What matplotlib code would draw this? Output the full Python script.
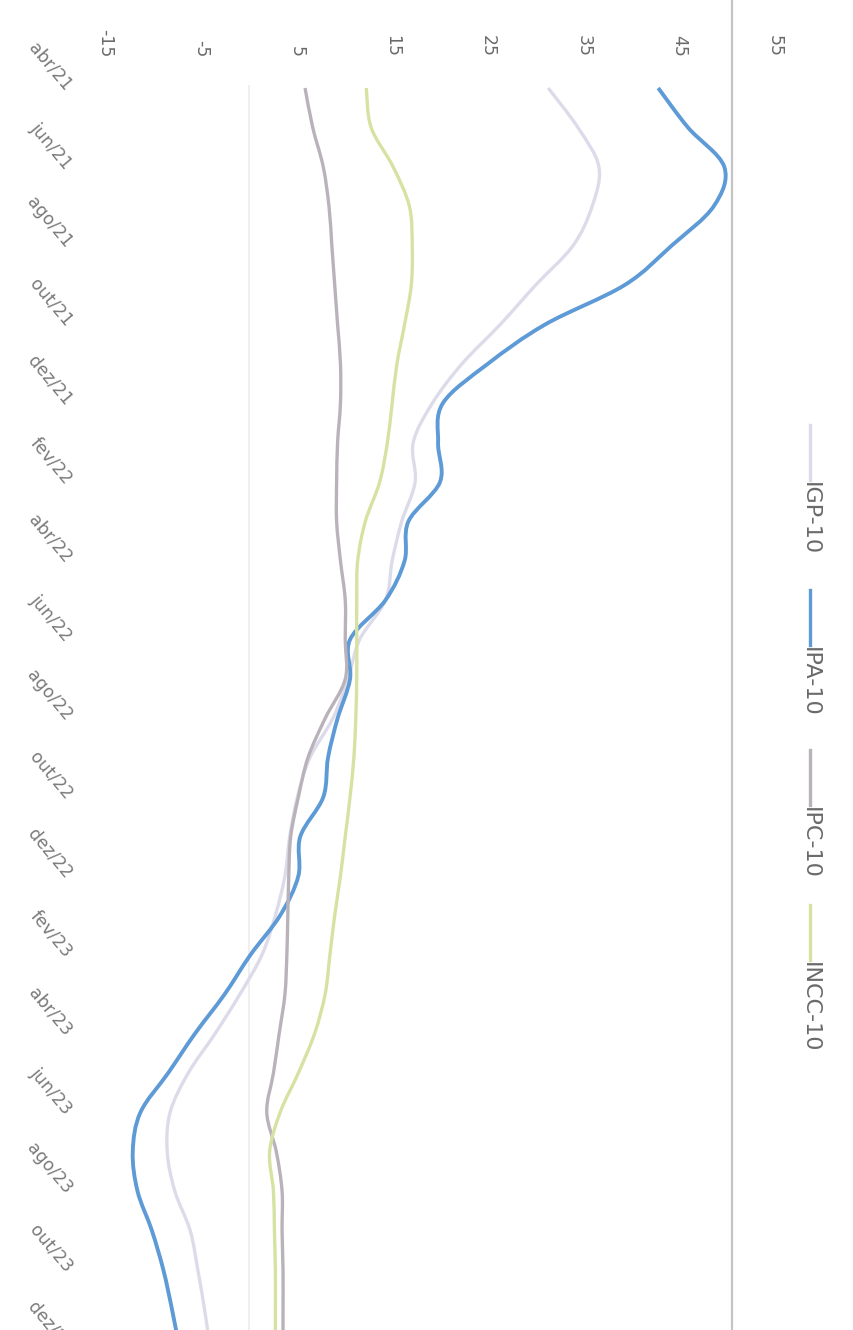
import numpy as np
import matplotlib.pyplot as plt
from matplotlib.lines import Line2D
from matplotlib.path import Path
from matplotlib.patches import PathPatch

# Variação acumulada em 12 meses (%), mensal de abr/21 a dez/23
meses = ['abr/21', 'mai/21', 'jun/21', 'jul/21', 'ago/21', 'set/21', 'out/21', 'nov/21',
         'dez/21', 'jan/22', 'fev/22', 'mar/22', 'abr/22', 'mai/22', 'jun/22', 'jul/22',
         'ago/22', 'set/22', 'out/22', 'nov/22', 'dez/22', 'jan/23', 'fev/23', 'mar/23',
         'abr/23', 'mai/23', 'jun/23', 'jul/23', 'ago/23', 'set/23', 'out/23', 'nov/23',
         'dez/23']

igp10 = [31.3, 34.4, 36.6, 35.9, 33.9, 30.0, 26.3, 22.3, 19.2, 17.2, 17.4, 16.0, 15.0,
         14.3, 11.6, 10.4, 8.8, 6.4, 5.1, 4.3, 3.8, 2.8, 1.4, -0.9, -3.5, -6.3, -8.2,
         -8.5, -7.7, -6.1, -5.3, -4.6, -4.0]
ipa10 = [42.8, 45.9, 49.7, 48.6, 44.2, 39.3, 31.0, 25.0, 20.3, 19.8, 20.0, 16.7, 16.3,
         14.3, 10.6, 10.6, 9.3, 8.3, 7.8, 5.4, 5.2, 3.3, 0.2, -2.5, -5.6, -8.4, -11.3,
         -12.1, -11.6, -10.1, -8.9, -8.0, -7.2]
ipc10 = [5.9, 6.7, 7.8, 8.4, 8.7, 9.0, 9.3, 9.6, 9.6, 9.3, 9.2, 9.2, 9.6, 10.1, 10.1,
         10.1, 8.0, 6.2, 5.2, 4.4, 4.2, 4.1, 4.0, 3.8, 3.2, 2.6, 1.9, 2.9, 3.5, 3.5, 3.6,
         3.6, 3.6]
incc10 = [12.3, 12.8, 15.1, 16.8, 17.1, 17.0, 16.3, 15.5, 15.0, 14.5, 13.7, 12.2, 11.4,
          11.3, 11.3, 11.3, 11.2, 11.0, 10.6, 10.1, 9.6, 9.0, 8.5, 8.0, 6.9, 5.2, 3.3,
          2.2, 2.6, 2.7, 2.8, 2.8, 2.8]

nomes = ['IGP-10', 'IPA-10', 'IPC-10', 'INCC-10']
cores = ['#dcdbea', '#5d9ad6', '#b9b2ba', '#d6e2a2']
larguras = [2.4, 2.8, 2.4, 2.4]
valores_eixo = [-15, -5, 5, 15, 25, 35, 45, 55]


def spline_path(xs, ys):
    # smooth spline line through the points (cubic Bezier segments)
    p = np.column_stack([xs, ys]).astype(float)
    verts = [p[0]]
    codes = [Path.MOVETO]
    for i in range(len(p) - 1):
        p0 = p[i - 1] if i > 0 else p[i]
        p3 = p[i + 2] if i + 2 < len(p) else p[i + 1]
        c1 = p[i] + (p[i + 1] - p0) / 6
        c2 = p[i + 1] - (p3 - p[i]) / 6
        verts += [c1, c2, p[i + 1]]
        codes += [Path.CURVE4] * 3
    return Path(verts, codes)


W, H = 854, 1330
fig = plt.figure(figsize=(W / 100, H / 100), dpi=100)
fig.patch.set_facecolor('white')

# overlay in pixel units for the legend and the page rule
lax = fig.add_axes([0, 0, 1, 1])
lax.set_xlim(0, W)
lax.set_ylim(H, 0)
lax.axis('off')
lax.add_line(Line2D([732, 732], [0, H], color='#c4c4c4', lw=1.6))

# chart drawn sideways: values run left->right, months run top->bottom
px_mes = 39.4
topo = 88
m_min, m_max = -0.08, 34
ax_top = 1 - (topo + px_mes * m_min) / H
ax_bot = 1 - (topo + px_mes * m_max) / H
ax = fig.add_axes([105 / W, ax_bot, (775 - 105) / W, ax_top - ax_bot])
ax.set_facecolor('none')
ax.set_xlim(-15, 55)
ax.set_ylim(m_max, m_min)

t = list(range(len(meses)))
for serie, cor, lw in zip([igp10, ipa10, ipc10, incc10], cores, larguras):
    ax.add_patch(PathPatch(spline_path(serie, t), fill=False, edgecolor=cor, lw=lw,
                           joinstyle='round', capstyle='butt'))

ax.axvline(0, color='#ececec', lw=1.2, zorder=0)

for s in ax.spines.values():
    s.set_visible(False)

ax.xaxis.tick_top()
ax.set_xticks(valores_eixo)
ax.set_xticklabels([str(v) for v in valores_eixo], rotation=-90, va='bottom',
                   ha='center', fontsize=12.5, color='#6a6a6a')
ax.tick_params(axis='x', length=0, pad=20)

ax.set_yticks(t[::2])
ax.set_yticklabels(meses[::2], rotation=-50, rotation_mode='anchor', ha='right',
                   va='center', fontsize=12.5, color='#7a7a7a')
ax.tick_params(axis='y', length=0, pad=26)

leg_x = 810
leg_y = [425, 590, 750, 905]
for nome, cor, y0 in zip(nomes, cores, leg_y):
    lax.add_line(Line2D([leg_x, leg_x], [y0, y0 + 55], color=cor, lw=2.4))
    lax.text(leg_x, y0 + 57, nome, rotation=-90, rotation_mode='anchor', ha='left',
             va='center', fontsize=16, color='#6a6a6a')

fig.savefig('out.png', dpi=100, facecolor='white')
